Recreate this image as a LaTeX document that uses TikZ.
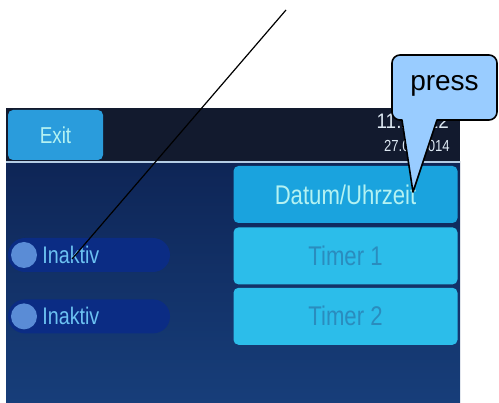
\documentclass[tikz,border=0pt]{standalone}
\usepackage{fontspec}
\setmainfont{Liberation Sans}
\newfontfamily\lcdfont{Liberation Sans}[FakeStretch=0.82]
\newfontfamily\clockfont{Liberation Sans}[FakeStretch=0.9]
\usetikzlibrary{positioning}
\definecolor{screentop}{HTML}{121A2E}
\definecolor{screenmid}{HTML}{0E2556}
\definecolor{screenlow}{HTML}{173E7A}
\definecolor{sepgray}{HTML}{B4CCE4}
\definecolor{btnactive}{HTML}{1AA3DE}
\definecolor{btncyan}{HTML}{2CBDEA}
\definecolor{btntextlite}{HTML}{B4F2F2}
\definecolor{btntextdim}{HTML}{2A8CBE}
\definecolor{exitfill}{HTML}{2A9CDC}
\definecolor{pillfill}{HTML}{0B2C84}
\definecolor{lampblue}{HTML}{5A8CD6}
\definecolor{pilltext}{HTML}{6CC2F2}
\definecolor{clocktext}{HTML}{DDE8F2}
\definecolor{calloutblue}{HTML}{99CCFF}
\tikzset{
  lcdbtn/.style={
    fill=btncyan, text=btntextdim, rounded corners=5pt,
    minimum width=224pt, minimum height=57pt, inner sep=0pt,
    font=\lcdfont\fontsize{27}{27}\selectfont
  },
  exitbtn/.style={
    fill=exitfill, text=btntextlite, rounded corners=5pt,
    minimum width=95pt, minimum height=50pt, inner sep=0pt,
    font=\lcdfont\fontsize{23}{23}\selectfont
  },
  statpill/.style={
    fill=pillfill, rounded corners=17pt,
    minimum width=162pt, minimum height=34pt, inner sep=0pt
  },
  lamp/.style={circle, fill=lampblue, minimum size=26pt, inner sep=0pt},
  pilllbl/.style={text=pilltext, inner sep=0pt, font=\lcdfont\fontsize{24}{24}\selectfont},
  timelbl/.style={text=clocktext, inner sep=0pt, font=\clockfont\fontsize{21}{21}\selectfont},
  datelbl/.style={text=clocktext, inner sep=0pt, font=\lcdfont\fontsize{16}{16}\selectfont},
  callout/.style={fill=calloutblue, draw=black, line width=1.6pt, line join=round},
  pointer/.style={draw=black, line width=1.2pt}
}
\begin{document}
\begin{tikzpicture}[x=1pt, y=-1pt]
  \useasboundingbox (0,0) rectangle (499,403);

  % display background
  \fill[screentop] (6,108) rectangle (460,162);
  \shade[top color=screenmid, bottom color=screenlow] (6,162) rectangle (460,403);
  \draw[sepgray, line width=2.5pt] (6,162) -- (460,162);

  % header
  \node[exitbtn] (exit) at (55.5,135) {Exit};
  \node[timelbl, anchor=base east] (clock) at (449,129) {11:25:22};
  \node[datelbl, anchor=base east] (date) at (450,152) {27.08.2014};

  % menu buttons
  \node[lcdbtn, fill=btnactive, text=btntextlite] (datum) at (345.5,194.5) {Datum/Uhrzeit};
  \node[lcdbtn, below=4pt of datum] (timer1) {Timer 1};
  \node[lcdbtn, below=3pt of timer1] (timer2) {Timer 2};

  % timer states
  \node[statpill] (state1) at (89,255) {};
  \node[lamp] (lamp1) at (24,255) {};
  \node[pilllbl, right=5pt of lamp1] (lbl1) {Inaktiv};
  \node[statpill, below=27pt of state1] (state2) {};
  \node[lamp] (lamp2) at (lamp1 |- state2) {};
  \node[pilllbl, right=5pt of lamp2] (lbl2) {Inaktiv};

  % pointer line
  \coordinate (ptrtop) at (286,10);
  \coordinate (ptrtip) at (72,259);
  \draw[pointer] (ptrtop) -- (ptrtip);

  % speech bubble
  \path[callout] (413,192) -- (402,120) [rounded corners=8pt] -- (392,120)
    -- (392,55) -- (497,55) -- (497,120) [sharp corners] -- (437,120) -- cycle;
  \node[font=\fontsize{28}{28}\selectfont, inner sep=0pt] (press) at (444.5,86) {press};
\end{tikzpicture}
\end{document}
